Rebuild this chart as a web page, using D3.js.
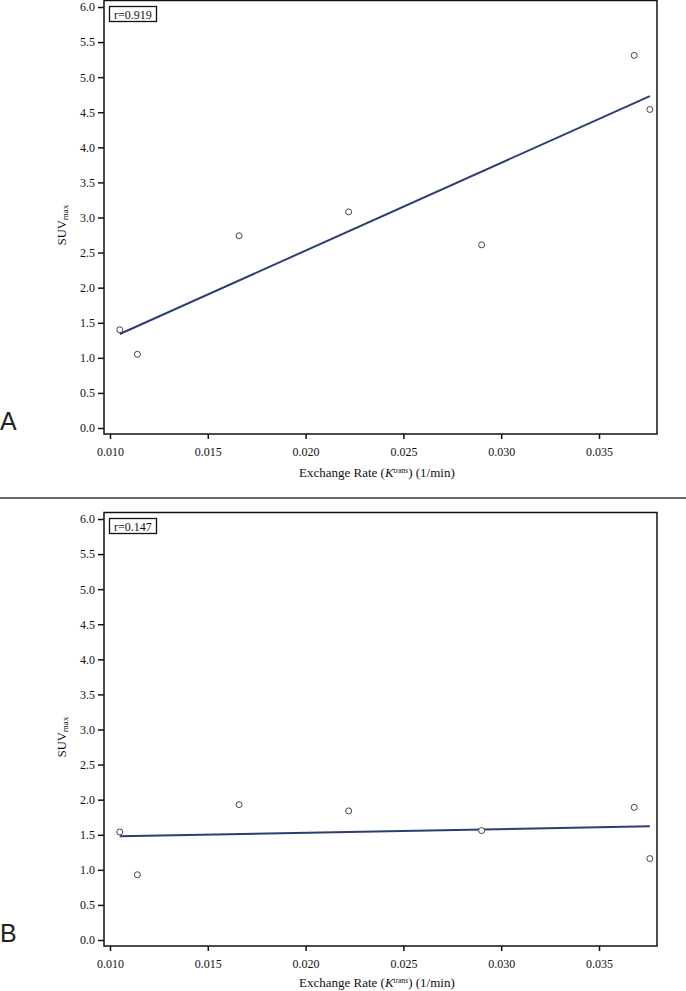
<!DOCTYPE html>
<html><head><meta charset="utf-8">
<script src="https://cdn.jsdelivr.net/npm/d3@7"></script>
<style>body{margin:0;background:#fff}svg{display:block}</style>
</head><body>
<script>
// Data
const kTrans = [0.0105, 0.0114, 0.0166, 0.0222, 0.0290, 0.0368, 0.0376];
const suvA = [1.40, 1.05, 2.74, 3.08, 2.61, 5.31, 4.54];
const suvB = [1.54, 0.93, 1.93, 1.84, 1.56, 1.89, 1.16];
const fitX = [0.0105, 0.0376];
const fitA = [1.34, 4.73];
const fitB = [1.48, 1.62];
const rLabels = ["r=0.919", "r=0.147"];
const panelLabels = ["A", "B"];
const xTicks = [0.010, 0.015, 0.020, 0.025, 0.030, 0.035];
const yTicks = [0, 0.5, 1, 1.5, 2, 2.5, 3, 3.5, 4, 4.5, 5, 5.5, 6];

const W = 686, H = 991;
const svg = d3.select("body").append("svg").attr("width", W).attr("height", H);
const serif = "'Liberation Serif','Times New Roman',serif";

const x = d3.scaleLinear().domain([0.010, 0.035]).range([110, 599]);

function panel(off, ys, fit, rLab, pLab, titleY) {
  const g = svg.append("g").attr("transform", `translate(0,${off})`);
  const y = d3.scaleLinear().domain([0, 6]).range([428, 7]);
  const left = 104, right = 657, top = 0.5, bottom = 434;

  // frame
  g.append("rect").attr("x", left).attr("y", top).attr("width", right - left).attr("height", bottom - top)
    .attr("fill", "none").attr("stroke", "#111").attr("stroke-width", 1.5);

  // y axis
  const ya = g.append("g").attr("transform", `translate(${left},0)`)
    .call(d3.axisLeft(y).tickValues(yTicks).tickFormat(d3.format(".1f")).tickSize(6).tickPadding(3));
  ya.select(".domain").remove();
  ya.selectAll("line").attr("stroke", "#111").attr("stroke-width", 1.5);
  ya.selectAll("text").attr("font-family", serif).attr("font-size", 12).attr("fill", "#111");

  // x axis
  const xa = g.append("g").attr("transform", `translate(0,${bottom})`)
    .call(d3.axisBottom(x).tickValues(xTicks).tickFormat(d3.format(".3f")).tickSize(5).tickPadding(8));
  xa.select(".domain").remove();
  xa.selectAll("line").attr("stroke", "#111").attr("stroke-width", 1.5);
  xa.selectAll("text").attr("font-family", serif).attr("font-size", 12).attr("fill", "#111");

  // x title
  const xt = g.append("text").attr("x", 299).attr("y", titleY).attr("font-family", serif)
    .attr("font-size", 13).attr("fill", "#111");
  xt.append("tspan").text("Exchange Rate (");
  xt.append("tspan").attr("font-style", "italic").text("K");
  xt.append("tspan").attr("font-size", 7.5).attr("dy", -4).text("trans");
  xt.append("tspan").attr("dy", 4).text(") (1/min)");

  // y title
  const yt = g.append("text").attr("transform", "translate(66,225) rotate(-90)")
    .attr("text-anchor", "middle").attr("font-family", serif).attr("font-size", 12.5).attr("fill", "#111");
  yt.append("tspan").text("SUV");
  yt.append("tspan").attr("font-size", 9).attr("dy", 2).text("max");

  // r box
  g.append("rect").attr("x", 109.5).attr("y", 6.5).attr("width", 47).attr("height", 15)
    .attr("fill", "#fff").attr("stroke", "#111").attr("stroke-width", 1.3);
  g.append("text").attr("x", 133).attr("y", 18.5).attr("text-anchor", "middle")
    .attr("font-family", serif).attr("font-size", 12).attr("fill", "#111").text(rLab);

  // fit line
  g.append("line").attr("x1", x(fitX[0])).attr("y1", y(fit[0])).attr("x2", x(fitX[1])).attr("y2", y(fit[1]))
    .attr("stroke", "#2c3e72").attr("stroke-width", 2);

  // points
  g.selectAll("circle.pt").data(kTrans.map((k, i) => [k, ys[i]])).join("circle")
    .attr("class", "pt").attr("cx", d => x(d[0])).attr("cy", d => y(d[1])).attr("r", 3)
    .attr("fill", "#fff").attr("stroke", "#444").attr("stroke-width", 1);

  // panel label
  g.append("text").attr("x", 0).attr("y", 430).attr("font-family", "'Liberation Sans',Arial,sans-serif")
    .attr("font-size", 25).attr("fill", "#222").text(pLab);
}

panel(0, suvA, fitA, rLabels[0], panelLabels[0], 477);
panel(512, suvB, fitB, rLabels[1], panelLabels[1], 475);

svg.append("line").attr("x1", 0).attr("x2", W).attr("y1", 498).attr("y2", 498)
  .attr("stroke", "#333").attr("stroke-width", 1.5);
</script>
</body></html>
